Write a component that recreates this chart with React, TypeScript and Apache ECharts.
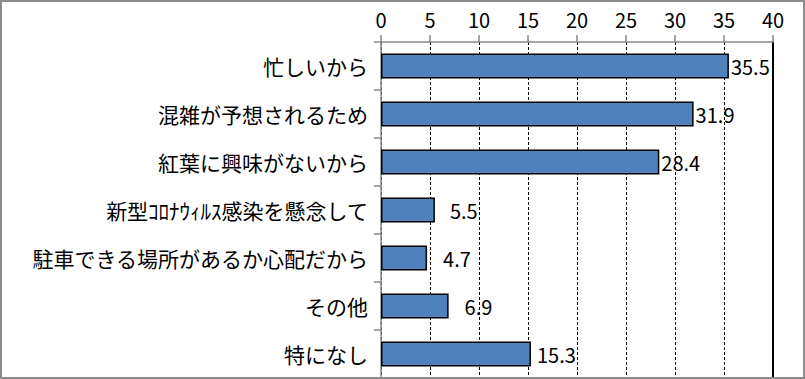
import React, { useEffect, useRef } from "react";
import * as echarts from "echarts";

const categories = [
  "忙しいから",
  "混雑が予想されるため",
  "紅葉に興味がないから",
  "新型ｺﾛﾅｳｨﾙｽ感染を懸念して",
  "駐車できる場所があるか心配だから",
  "その他",
  "特になし",
];
const values = [35.5, 31.9, 28.4, 5.5, 4.7, 6.9, 15.3];
const labelGaps = [2, 2, 2, 15, 16, 16, 6];

const FONT = "'Noto Sans CJK JP', 'Noto Sans', sans-serif";

export default function App() {
  const ref = useRef<HTMLDivElement>(null);
  useEffect(() => {
    if (!ref.current) return;
    const chart = echarts.init(ref.current, null, { renderer: "svg" });
    chart.setOption({
      animation: false,
      backgroundColor: "#ffffff",
      textStyle: { fontFamily: FONT },
      grid: { left: 381, top: 42, right: 32, bottom: 1, containLabel: false },
      xAxis: {
        type: "value",
        position: "top",
        min: 0,
        max: 40,
        interval: 5,
        axisLine: { show: true, lineStyle: { color: "#888888", width: 1.5 } },
        axisTick: { show: true, length: 7, lineStyle: { color: "#888888", width: 1.5 } },
        axisLabel: { color: "#000", fontSize: 20, fontFamily: FONT, margin: 13 },
        splitLine: { show: true, lineStyle: { color: "#000", type: [3, 2], width: 1 } },
      },
      yAxis: [
        {
          type: "category",
          data: categories,
          inverse: true,
          axisLine: { show: true, lineStyle: { color: "#888888", width: 1.5 } },
          axisTick: { show: true, length: 7, lineStyle: { color: "#888888", width: 1.5 } },
          axisLabel: { color: "#000", fontSize: 21, fontFamily: FONT, margin: 13 },
        },
        {
          type: "category",
          data: categories,
          inverse: true,
          position: "right",
          axisLine: { show: true, lineStyle: { color: "#000", width: 2 } },
          axisTick: { show: false },
          axisLabel: { show: false },
        },
      ],
      series: [
        {
          type: "bar",
          yAxisIndex: 0,
          barWidth: 25,
          data: values.map((v, i) => ({
            value: v,
            label: { distance: labelGaps[i] },
          })),
          itemStyle: { color: "#4F81BD", borderColor: "#000", borderWidth: 1.5 },
          label: {
            show: true,
            position: "right",
            color: "#000",
            fontSize: 20,
            fontFamily: FONT,
            formatter: (p: any) => p.value.toFixed(1),
          },
        },
      ],
      graphic: [
        {
          type: "rect",
          shape: { x: 1, y: 1, width: 803, height: 377 },
          style: { fill: "none", stroke: "#8c8c8c", lineWidth: 2 },
          silent: true,
          z: 100,
        },
      ],
    });
    return () => chart.dispose();
  }, []);
  return (
    <div style={{ position: "fixed", left: 0, top: 0, width: 805, height: 379 }}>
      <div ref={ref} style={{ width: 805, height: 379 }} />
    </div>
  );
}
